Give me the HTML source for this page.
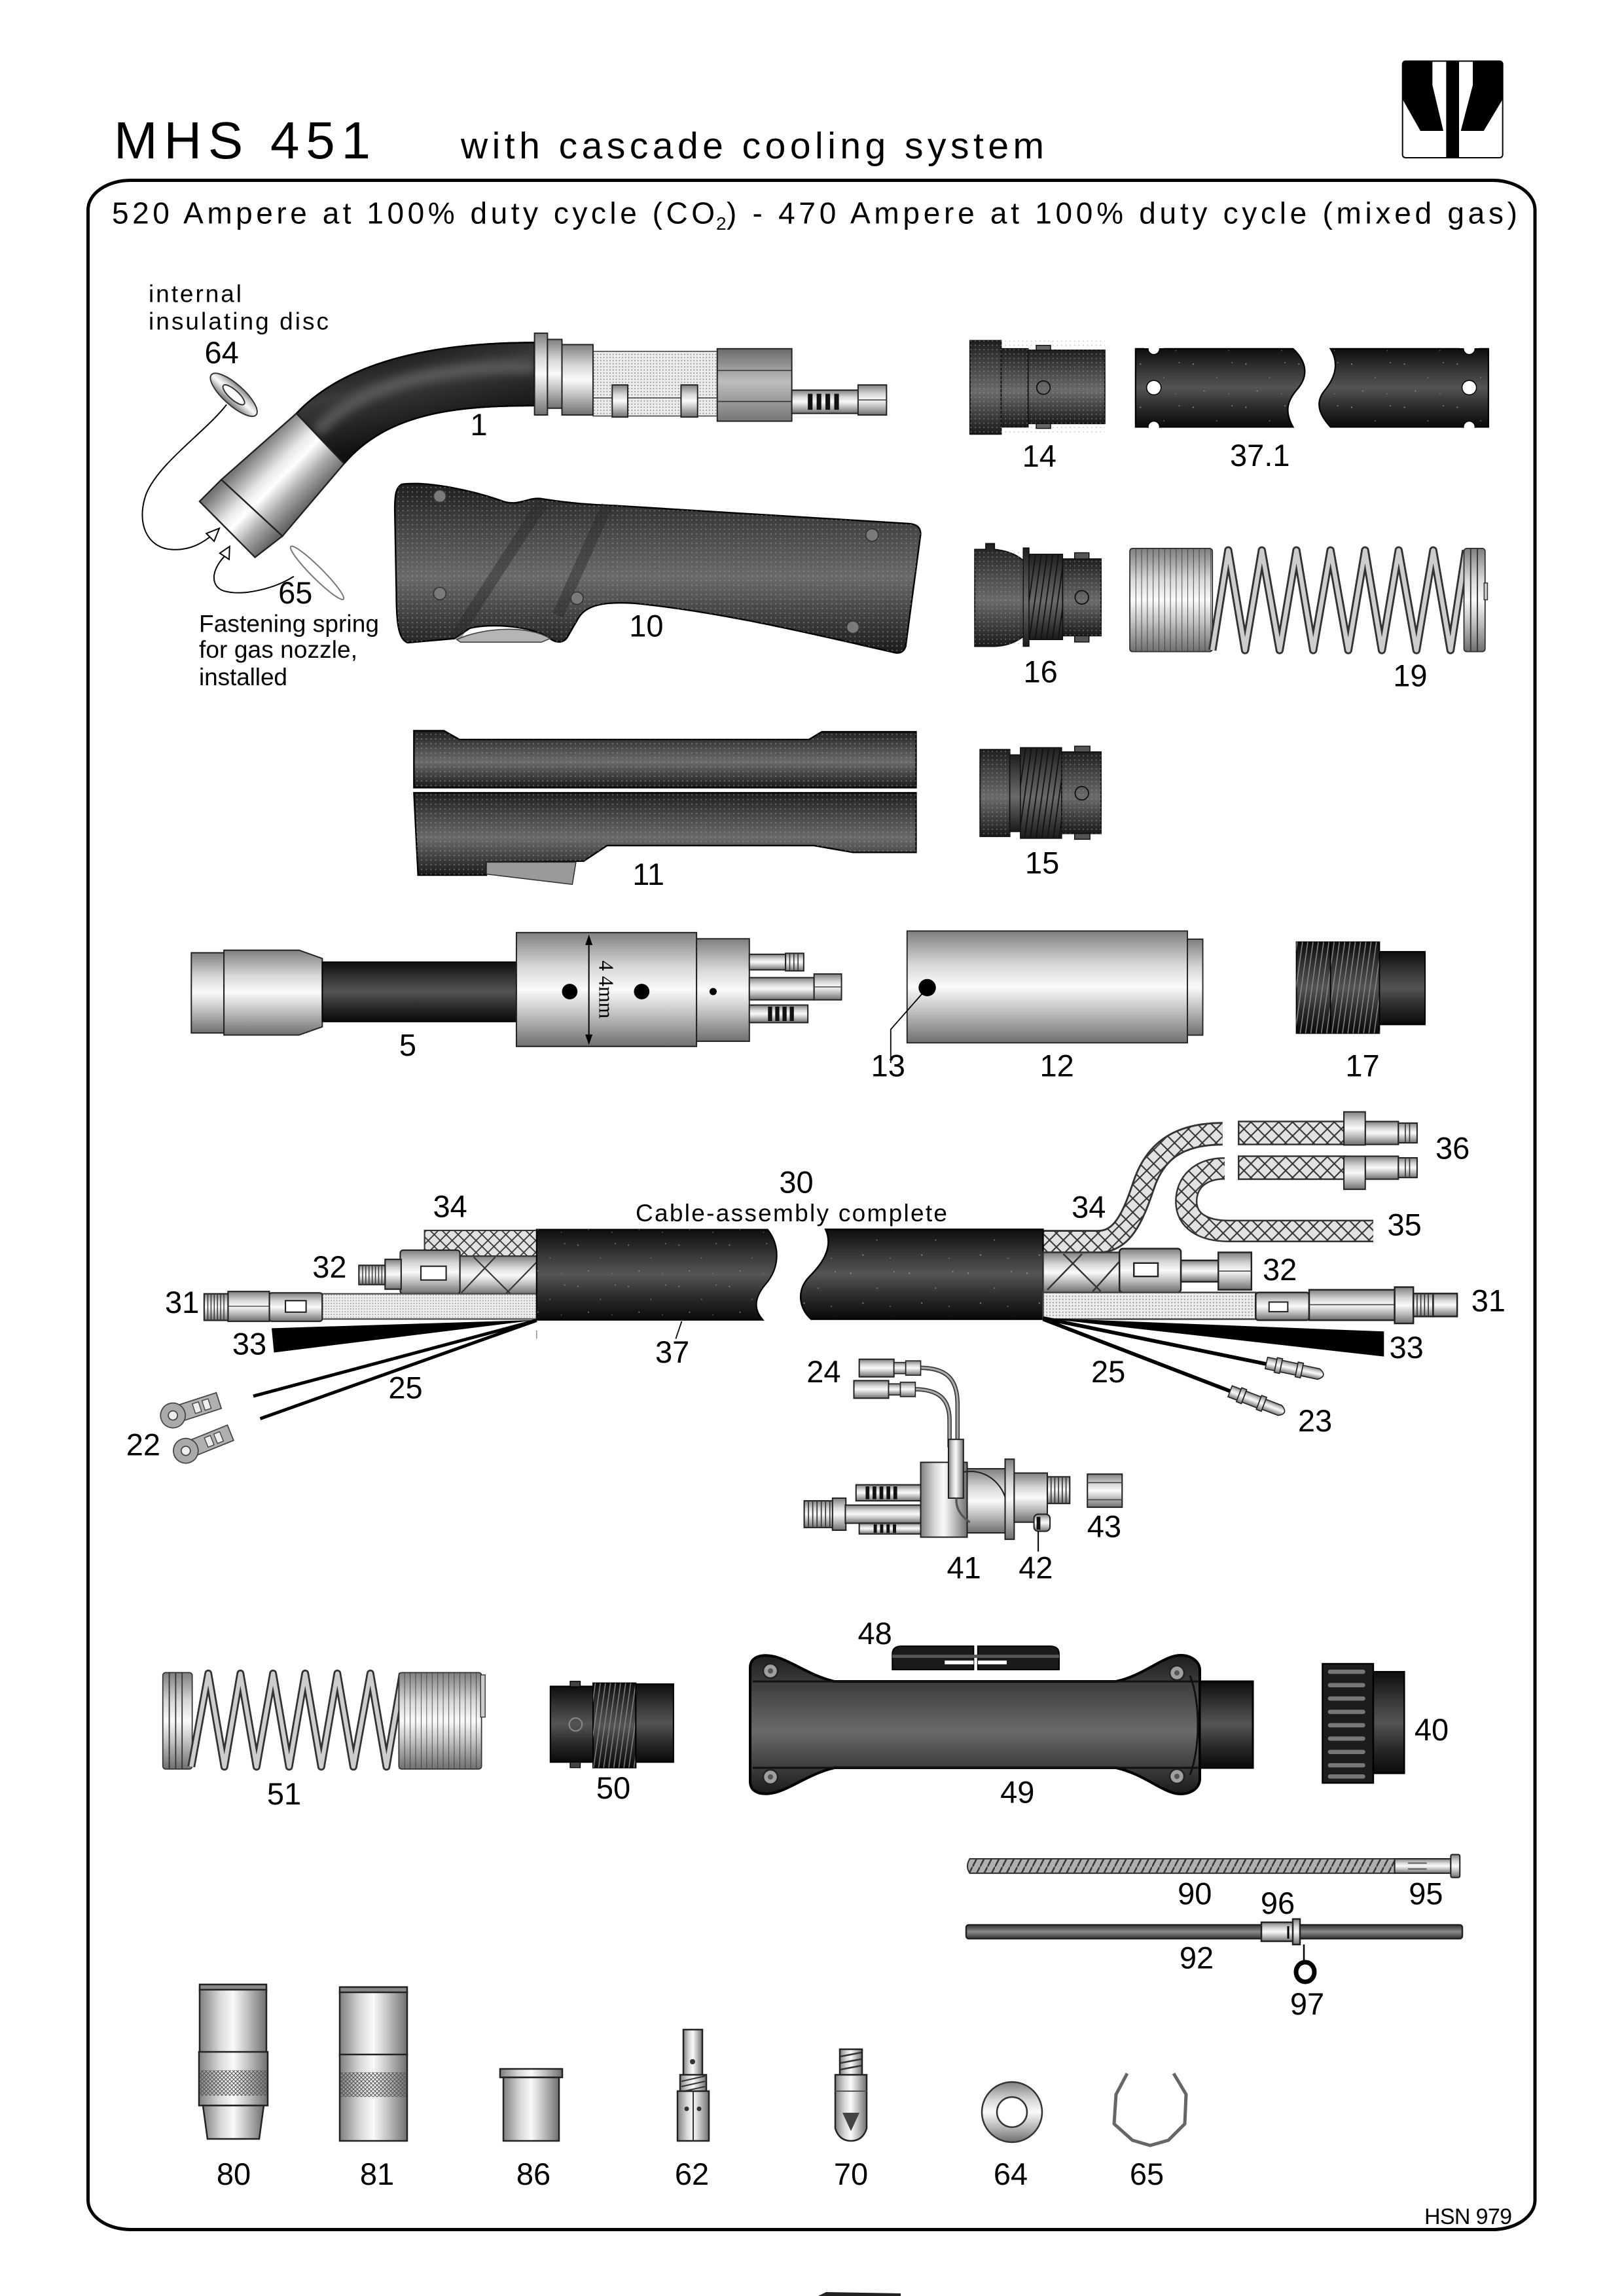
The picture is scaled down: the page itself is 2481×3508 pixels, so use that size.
<!DOCTYPE html>
<html><head><meta charset="utf-8"><style>
html,body{margin:0;padding:0;background:#fff}
svg{display:block}
text{font-family:"Liberation Sans",Arial,sans-serif;fill:#000}
</style></head><body>
<svg width="2481" height="3508" viewBox="0 0 2481 3508" xmlns="http://www.w3.org/2000/svg">
<defs>
<linearGradient id="gSilverV" x1="0" y1="0" x2="0" y2="1"><stop offset="0" stop-color="#7f7f7f"/><stop offset=".3" stop-color="#d8d8d8"/><stop offset=".5" stop-color="#fafafa"/><stop offset=".72" stop-color="#c0c0c0"/><stop offset="1" stop-color="#6f6f6f"/></linearGradient>
<linearGradient id="gSilverH" x1="0" y1="0" x2="1" y2="0"><stop offset="0" stop-color="#7f7f7f"/><stop offset=".3" stop-color="#d8d8d8"/><stop offset=".5" stop-color="#fafafa"/><stop offset=".72" stop-color="#c0c0c0"/><stop offset="1" stop-color="#6f6f6f"/></linearGradient>
<linearGradient id="gDarkV" x1="0" y1="0" x2="0" y2="1"><stop offset="0" stop-color="#0d0d0d"/><stop offset=".3" stop-color="#3a3a3a"/><stop offset=".5" stop-color="#545454"/><stop offset=".75" stop-color="#2a2a2a"/><stop offset="1" stop-color="#0a0a0a"/></linearGradient>
<linearGradient id="gGrayV" x1="0" y1="0" x2="0" y2="1"><stop offset="0" stop-color="#1e1e1e"/><stop offset=".3" stop-color="#4a4a4a"/><stop offset=".55" stop-color="#6a6a6a"/><stop offset=".8" stop-color="#3e3e3e"/><stop offset="1" stop-color="#1a1a1a"/></linearGradient>
<linearGradient id="gMidV" x1="0" y1="0" x2="0" y2="1"><stop offset="0" stop-color="#333"/><stop offset=".5" stop-color="#8a8a8a"/><stop offset="1" stop-color="#333"/></linearGradient>
<linearGradient id="gBlock" x1="0" y1="0" x2="0" y2="1"><stop offset="0" stop-color="#6a6a6a"/><stop offset=".45" stop-color="#bdbdbd"/><stop offset="1" stop-color="#777"/></linearGradient>
<linearGradient id="gNoz" gradientUnits="userSpaceOnUse" x1="272" y1="319" x2="377" y2="422"><stop offset="0" stop-color="#777"/><stop offset=".35" stop-color="#e8e8e8"/><stop offset=".5" stop-color="#fff"/><stop offset=".75" stop-color="#aaa"/><stop offset="1" stop-color="#666"/></linearGradient>
<linearGradient id="gNeck" gradientUnits="userSpaceOnUse" x1="560" y1="118" x2="600" y2="300"><stop offset="0" stop-color="#151515"/><stop offset=".4" stop-color="#3a3a3a"/><stop offset="1" stop-color="#111"/></linearGradient>
<filter id="blur8" x="-20%" y="-20%" width="140%" height="140%"><feGaussianBlur stdDeviation="8"/></filter>
<pattern id="dots" width="9" height="9" patternUnits="userSpaceOnUse"><circle cx="2" cy="2" r="1.4" fill="#a0a0a0" fill-opacity=".55"/></pattern>
<pattern id="speck" width="110" height="90" patternUnits="userSpaceOnUse"><circle cx="12" cy="14" r="1.5" fill="#aaa" fill-opacity=".7"/><circle cx="61" cy="42" r="1.3" fill="#999" fill-opacity=".7"/><circle cx="93" cy="11" r="1.4" fill="#aaa" fill-opacity=".6"/><circle cx="35" cy="70" r="1.4" fill="#aaa" fill-opacity=".7"/><circle cx="86" cy="76" r="1.2" fill="#999" fill-opacity=".6"/></pattern>
<pattern id="braid" width="26" height="26" patternUnits="userSpaceOnUse"><rect width="26" height="26" fill="#e2e2e2"/><path d="M0,0 L26,26 M26,0 L0,26" stroke="#333" stroke-width="2.5"/></pattern>
<pattern id="mesh" width="6" height="6" patternUnits="userSpaceOnUse"><rect width="6" height="6" fill="#ececec"/><circle cx="3" cy="3" r="1.2" fill="#888"/></pattern>
<pattern id="hatch" width="14" height="27" patternUnits="userSpaceOnUse"><rect width="14" height="27" fill="#b0b0b0"/><path d="M0,27 L14,0" stroke="#333" stroke-width="3"/></pattern>
<pattern id="threadL" width="11" height="20" patternUnits="userSpaceOnUse" patternTransform="skewX(-8)"><path d="M5.5,0 V20" stroke="#8a8a8a" stroke-width="2"/></pattern>
<pattern id="threadD" width="12" height="20" patternUnits="userSpaceOnUse" patternTransform="skewX(-8)"><path d="M6,0 V20" stroke="#111" stroke-width="2.5"/></pattern>
<pattern id="coil" width="12" height="20" patternUnits="userSpaceOnUse"><path d="M0,0 V20" stroke="#333" stroke-width="2.2"/></pattern>
<pattern id="knurl" width="6" height="6" patternUnits="userSpaceOnUse"><path d="M0,0 L6,6 M6,0 L0,6" stroke="#555" stroke-width="1"/></pattern>
</defs>

<!-- Header -->
<text x="174" y="242" font-size="80" textLength="392" lengthAdjust="spacing">MHS 451</text>
<text x="704" y="242" font-size="57" textLength="891" lengthAdjust="spacing">with cascade cooling system</text>
<g transform="translate(2130,80) scale(0.33333)">
<rect x="38" y="40" width="459" height="443" rx="14" fill="#fff" stroke="#000" stroke-width="6"/>
<path d="M38,54 Q38,40 52,40 L175,40 L175,150 L225,360 L120,360 L38,215 Z" fill="#000"/>
<path d="M360,40 L483,40 Q497,40 497,54 L497,215 L410,360 L305,360 L360,150 Z" fill="#000"/>
<rect x="238" y="40" width="59" height="443" fill="#000"/>
</g>

<!-- Frame -->
<rect x="134.5" y="275.5" width="2210.5" height="3131" rx="65" ry="45" fill="none" stroke="#000" stroke-width="5"/>
<text x="171" y="341.6" font-size="46" textLength="921" lengthAdjust="spacing">520 Ampere at 100% duty cycle (CO</text>
<text x="1094" y="351" font-size="28">2</text>
<text x="1110" y="341.6" font-size="46" textLength="1208" lengthAdjust="spacing">) - 470 Ampere at 100% duty cycle (mixed gas)</text>

<!-- ===== Zoom4 region: parts 1, 64, 65, 10, 11, 5 ===== -->
<g transform="translate(180,430) scale(0.79082)">
 <g transform="rotate(42 224 219)">
  <ellipse cx="224" cy="219" rx="58" ry="20" fill="url(#gSilverV)" stroke="#333" stroke-width="2.5"/>
  <ellipse cx="224" cy="219" rx="27" ry="9" fill="#fff" stroke="#333" stroke-width="2.5"/>
 </g>
 <path d="M210,238 C170,290 80,350 55,410 C35,465 55,515 105,518 C140,520 165,505 186,487" fill="none" stroke="#000" stroke-width="2.5"/>
 <path d="M196,477 L171,487 L186,502 Z" fill="#fff" stroke="#000" stroke-width="2.5"/>
 <path d="M340,570 C300,595 240,608 205,598 C180,590 178,560 207,530" fill="none" stroke="#000" stroke-width="2.5"/>
 <path d="M216,512 L197,525 L215,537 Z" fill="#fff" stroke="#000" stroke-width="2.5"/>
 <ellipse cx="385" cy="563" rx="72" ry="11" transform="rotate(45 385 563)" fill="none" stroke="#777" stroke-width="2.5"/>

 <!-- neck -->
 <path d="M345,255 C420,175 560,118 805,118 L805,240 C650,240 520,255 437,352 Z" fill="url(#gNeck)" stroke="#000" stroke-width="3"/>
 <path d="M385,290 C462,205 600,165 805,165" fill="none" stroke="#626262" stroke-width="26" stroke-opacity=".75" filter="url(#blur8)"/>
 <path d="M345,255 C420,175 560,118 805,118 L805,240 C650,240 520,255 437,352 Z" fill="none" stroke="#000" stroke-width="3"/>
 <polygon points="345,255 437,352 318,492 200,383" fill="url(#gNoz)" stroke="#222" stroke-width="3"/>
 <polygon points="200,383 318,492 265,533 158,425" fill="url(#gNoz)" stroke="#222" stroke-width="3"/>

 <!-- connector -->
 <rect x="918" y="135" width="242" height="92" fill="url(#mesh)" stroke="#444" stroke-width="2"/>
 <rect x="918" y="225" width="242" height="35" fill="url(#mesh)" stroke="#444" stroke-width="2"/>
 <rect x="805" y="100" width="25" height="158" fill="url(#gSilverV)" stroke="#222" stroke-width="2.5"/>
 <rect x="830" y="112" width="28" height="133" fill="url(#gSilverV)" stroke="#222" stroke-width="2.5"/>
 <rect x="858" y="122" width="60" height="136" fill="url(#gSilverV)" stroke="#222" stroke-width="2.5"/>
 <rect x="955" y="200" width="30" height="62" fill="url(#gSilverV)" stroke="#222" stroke-width="2.5"/>
 <rect x="1088" y="200" width="32" height="62" fill="url(#gSilverV)" stroke="#222" stroke-width="2.5"/>
 <rect x="1158" y="130" width="144" height="140" fill="url(#gBlock)" stroke="#222" stroke-width="2.5"/>
 <path d="M1158,172 H1302 M1158,232 H1302" stroke="#333" stroke-width="2"/>
 <rect x="1302" y="210" width="130" height="45" fill="url(#gSilverV)" stroke="#222" stroke-width="2.5"/>
 <g fill="#111"><rect x="1333" y="217" width="9" height="31"/><rect x="1350" y="217" width="9" height="31"/><rect x="1367" y="217" width="9" height="31"/><rect x="1384" y="217" width="9" height="31"/></g>
 <rect x="1430" y="200" width="55" height="58" fill="url(#gSilverV)" stroke="#222" stroke-width="2.5"/>
 <path d="M1430,229 H1485" stroke="#444" stroke-width="2"/>

 <!-- handle 10 -->
 <path d="M548,392 C600,385 690,405 745,425 C775,435 795,415 820,420 C870,428 920,432 960,433 L1530,468 C1548,470 1553,480 1550,495 L1522,705 C1518,718 1508,720 1496,716 C1380,690 1180,640 1000,622 C940,618 905,625 890,650 L868,688 C860,700 845,698 835,690 C800,665 720,660 680,670 L650,690 L560,698 C542,692 538,660 538,600 L535,440 C535,410 538,398 548,392 Z" fill="url(#gGrayV)" stroke="#000" stroke-width="3"/>
 <path d="M548,392 C600,385 690,405 745,425 C775,435 795,415 820,420 C870,428 920,432 960,433 L1530,468 C1548,470 1553,480 1550,495 L1522,705 C1518,718 1508,720 1496,716 C1380,690 1180,640 1000,622 C940,618 905,625 890,650 L868,688 C860,700 845,698 835,690 C800,665 720,660 680,670 L650,690 L560,698 C542,692 538,660 538,600 L535,440 C535,410 538,398 548,392 Z" fill="url(#dots)"/>
 <path d="M820,428 L650,690 M945,433 L850,645" stroke="#2a2a2a" stroke-width="22" stroke-opacity=".45"/>
 <path d="M655,692 C700,670 790,662 835,690 L818,697 L662,697 Z" fill="#b5b5b5" stroke="#444" stroke-width="2"/>
 <g fill="#7a7a7a" stroke="#333" stroke-width="2"><circle cx="622" cy="415" r="12"/><circle cx="622" cy="603" r="12"/><circle cx="887" cy="612" r="12"/><circle cx="1457" cy="490" r="12"/><circle cx="1420" cy="668" r="12"/></g>

 <!-- 11 -->
 <path d="M572,868 L630,868 L660,885 L1335,885 L1360,870 L1542,870 L1542,978 L572,978 Z" fill="url(#gGrayV)" stroke="#000" stroke-width="3"/>
 <path d="M572,868 L630,868 L660,885 L1335,885 L1360,870 L1542,870 L1542,978 L572,978 Z" fill="url(#dots)"/>
 <path d="M572,988 L1542,988 L1542,1103 L1420,1103 L1345,1090 L945,1090 L900,1120 L712,1122 L712,1147 L580,1147 Z" fill="url(#gGrayV)" stroke="#000" stroke-width="3"/>
 <path d="M572,988 L1542,988 L1542,1103 L1420,1103 L1345,1090 L945,1090 L900,1120 L712,1122 L712,1147 L580,1147 Z" fill="url(#dots)"/>
 <path d="M712,1122 L885,1122 L878,1165 L712,1145 Z" fill="#9a9a9a" stroke="#333" stroke-width="2"/>

 <!-- 5 -->
 <rect x="142" y="1297" width="63" height="155" fill="url(#gSilverV)" stroke="#222" stroke-width="2.5"/>
 <path d="M205,1292 L350,1292 L395,1308 L395,1440 L350,1456 L205,1456 Z" fill="url(#gSilverV)" stroke="#222" stroke-width="2.5"/>
 <rect x="395" y="1315" width="375" height="115" fill="url(#gDarkV)" stroke="#000" stroke-width="2.5"/>
 <rect x="770" y="1258" width="348" height="220" fill="url(#gSilverV)" stroke="#222" stroke-width="2.5"/>
 <rect x="1118" y="1270" width="102" height="198" fill="url(#gSilverV)" stroke="#222" stroke-width="2.5"/>
 <path d="M910,1275 V1462" stroke="#000" stroke-width="2.5"/>
 <path d="M910,1262 L903,1282 L917,1282 Z M910,1475 L903,1455 L917,1455 Z" fill="#000"/>
 <text transform="translate(930,1312) rotate(90)" font-size="40" style="font-family:'Liberation Serif',serif">4 4mm</text>
 <circle cx="873" cy="1372" r="15" fill="#000"/><circle cx="1012" cy="1372" r="15" fill="#000"/><circle cx="1150" cy="1372" r="7" fill="#000"/>
 <rect x="1220" y="1300" width="70" height="30" fill="url(#gSilverV)" stroke="#222" stroke-width="2.5"/>
 <rect x="1290" y="1298" width="35" height="34" fill="url(#gSilverV)" stroke="#222" stroke-width="2.5"/>
 <path d="M1298,1298 V1332 M1306,1298 V1332 M1314,1298 V1332" stroke="#333" stroke-width="2"/>
 <rect x="1220" y="1345" width="125" height="43" fill="url(#gSilverV)" stroke="#222" stroke-width="2.5"/>
 <rect x="1345" y="1338" width="53" height="50" fill="url(#gSilverV)" stroke="#222" stroke-width="2.5"/>
 <path d="M1345,1363 H1398" stroke="#444" stroke-width="2"/>
 <rect x="1220" y="1398" width="113" height="34" fill="url(#gSilverV)" stroke="#222" stroke-width="2.5"/>
 <g fill="#111"><rect x="1256" y="1401" width="8" height="28"/><rect x="1270" y="1401" width="8" height="28"/><rect x="1284" y="1401" width="8" height="28"/><rect x="1298" y="1401" width="8" height="28"/></g>
</g>

<!-- ===== Zoom6 region: 14, 37.1, 16, 19, 15, 12, 17 ===== -->
<g transform="translate(1330,480) scale(0.73342)">
 <rect x="207" y="55" width="65" height="195" fill="url(#gGrayV)" stroke="#111" stroke-width="2.5"/>
 <rect x="272" y="72" width="56" height="163" fill="url(#gGrayV)" stroke="#111" stroke-width="2.5"/>
 <rect x="328" y="75" width="160" height="153" fill="url(#gGrayV)" stroke="#111" stroke-width="2.5"/>
 <rect x="207" y="55" width="281" height="195" fill="url(#dots)"/>
 <rect x="345" y="65" width="30" height="10" fill="#666" stroke="#111" stroke-width="2"/>
 <rect x="345" y="228" width="30" height="10" fill="#666" stroke="#111" stroke-width="2"/>
 <circle cx="360" cy="153" r="14" fill="none" stroke="#111" stroke-width="2.5"/>
 <path d="M552,72 L880,72 C905,95 915,125 890,155 C870,178 860,200 880,235 L552,235 Z" fill="url(#gDarkV)" stroke="#000" stroke-width="3"/>
 <path d="M552,72 L880,72 C905,95 915,125 890,155 C870,178 860,200 880,235 L552,235 Z" fill="url(#speck)"/>
 <path d="M958,72 L1287,72 L1287,235 L958,235 C935,210 925,185 945,160 C970,130 975,100 958,72 Z" fill="url(#gDarkV)" stroke="#000" stroke-width="3"/>
 <path d="M958,72 L1287,72 L1287,235 L958,235 C935,210 925,185 945,160 C970,130 975,100 958,72 Z" fill="url(#speck)"/>
 <g fill="#fff" stroke="#000" stroke-width="2"><circle cx="590" cy="72" r="12"/><circle cx="590" cy="153" r="15"/><circle cx="590" cy="235" r="12"/><circle cx="1247" cy="72" r="12"/><circle cx="1247" cy="153" r="15"/><circle cx="1247" cy="235" r="12"/></g>
 <rect x="570" y="50" width="40" height="21" fill="#fff"/><rect x="570" y="237" width="40" height="21" fill="#fff"/>
 <rect x="1227" y="50" width="40" height="21" fill="#fff"/><rect x="1227" y="237" width="40" height="21" fill="#fff"/>
 <path d="M217,490 L240,490 L240,478 L258,478 L258,490 C290,493 310,505 320,515 L320,670 C305,682 285,692 255,692 L217,692 Z" fill="url(#gGrayV)" stroke="#111" stroke-width="2.5"/>
 <rect x="217" y="490" width="103" height="202" fill="url(#dots)"/>
 <rect x="318" y="487" width="12" height="205" fill="url(#gGrayV)" stroke="#111" stroke-width="2"/>
 <rect x="330" y="500" width="70" height="178" fill="url(#gGrayV)" stroke="#111" stroke-width="2"/>
 <rect x="330" y="500" width="70" height="178" fill="url(#threadD)"/>
 <rect x="400" y="510" width="80" height="160" fill="url(#gGrayV)" stroke="#111" stroke-width="2.5"/>
 <rect x="400" y="510" width="80" height="160" fill="url(#dots)"/>
 <rect x="425" y="497" width="30" height="13" fill="#555" stroke="#111" stroke-width="2"/>
 <rect x="425" y="670" width="30" height="13" fill="#555" stroke="#111" stroke-width="2"/>
 <circle cx="440" cy="590" r="14" fill="none" stroke="#111" stroke-width="2.5"/>
 <rect x="540" y="488" width="172" height="215" rx="6" fill="url(#gSilverV)" stroke="#333" stroke-width="2.5"/>
 <rect x="540" y="488" width="172" height="215" fill="url(#coil)"/>
 <polyline points="712,700 745,492 780,700 815,492 852,700 887,492 922,700 958,492 995,700 1030,492 1065,700 1100,492 1137,700 1172,492 1208,700 1240,492" fill="none" stroke="#333" stroke-width="17" stroke-linejoin="round"/>
 <polyline points="712,700 745,492 780,700 815,492 852,700 887,492 922,700 958,492 995,700 1030,492 1065,700 1100,492 1137,700 1172,492 1208,700 1240,492" fill="none" stroke="#cdcdcd" stroke-width="9" stroke-linejoin="round"/>
 <rect x="1236" y="488" width="44" height="215" rx="6" fill="url(#gSilverV)" stroke="#333" stroke-width="2.5"/>
 <path d="M1250,488 V703 M1264,488 V703" stroke="#333" stroke-width="2.5"/>
 <rect x="1278" y="560" width="7" height="35" fill="#ccc" stroke="#333" stroke-width="2"/>
 <rect x="228" y="907" width="62" height="181" fill="url(#gGrayV)" stroke="#111" stroke-width="2.5"/>
 <rect x="228" y="907" width="62" height="181" fill="url(#dots)"/>
 <rect x="290" y="918" width="22" height="160" fill="url(#gGrayV)" stroke="#111" stroke-width="2"/>
 <rect x="312" y="903" width="86" height="189" fill="url(#gGrayV)" stroke="#111" stroke-width="2"/>
 <rect x="312" y="903" width="86" height="189" fill="url(#threadD)"/>
 <rect x="398" y="912" width="82" height="170" fill="url(#gGrayV)" stroke="#111" stroke-width="2.5"/>
 <rect x="398" y="912" width="82" height="170" fill="url(#dots)"/>
 <rect x="425" y="900" width="32" height="12" fill="#555" stroke="#111" stroke-width="2"/>
 <rect x="425" y="1082" width="32" height="12" fill="#555" stroke="#111" stroke-width="2"/>
 <circle cx="440" cy="998" r="14" fill="none" stroke="#111" stroke-width="2.5"/>
 <rect x="76" y="1285" width="584" height="233" fill="url(#gSilverV)" stroke="#222" stroke-width="2.5"/>
 <rect x="660" y="1302" width="32" height="200" fill="url(#gSilverV)" stroke="#222" stroke-width="2.5"/>
 <circle cx="118" cy="1403" r="18" fill="#000"/>
 <path d="M108,1415 L42,1490 L42,1560" fill="none" stroke="#000" stroke-width="2.5"/>
 <rect x="887" y="1308" width="173" height="190" fill="url(#gDarkV)" stroke="#000" stroke-width="2.5"/>
 <rect x="887" y="1308" width="173" height="190" fill="url(#threadL)"/>
 <path d="M958,1308 V1498" stroke="#000" stroke-width="2.5"/>
 <rect x="1060" y="1328" width="95" height="152" fill="url(#gDarkV)" stroke="#000" stroke-width="2.5"/>
</g>

<!-- ===== Zoom7 region ===== -->
<g transform="translate(180,1640) scale(0.70153)">
 <rect x="668" y="342" width="250" height="56" fill="url(#braid)" stroke="#333" stroke-width="3"/>
 <rect x="740" y="398" width="178" height="84" fill="url(#gSilverV)" stroke="#333" stroke-width="3"/>
 <path d="M748,478 L822,400 M775,400 L855,480 M845,480 L915,408" stroke="#333" stroke-width="3" fill="none"/>
 <rect x="615" y="385" width="130" height="95" rx="6" fill="url(#gSilverV)" stroke="#222" stroke-width="3"/>
 <rect x="660" y="420" width="55" height="30" fill="#fff" stroke="#222" stroke-width="3"/>
 <rect x="582" y="405" width="35" height="65" fill="url(#gSilverV)" stroke="#222" stroke-width="3"/>
 <rect x="525" y="418" width="57" height="42" fill="url(#gSilverV)" stroke="#222" stroke-width="3"/>
 <path d="M533,418 V460 M540,418 V460 M547,418 V460 M554,418 V460 M561,418 V460 M568,418 V460 M575,418 V460" stroke="#333" stroke-width="2"/>
 <rect x="445" y="480" width="473" height="55" fill="url(#mesh)" stroke="#444" stroke-width="3"/>
 <rect x="330" y="478" width="115" height="62" rx="5" fill="url(#gSilverV)" stroke="#222" stroke-width="3"/>
 <rect x="365" y="495" width="45" height="25" fill="#fff" stroke="#222" stroke-width="3"/>
 <rect x="240" y="475" width="90" height="65" fill="url(#gSilverV)" stroke="#222" stroke-width="3"/>
 <path d="M240,507 H330" stroke="#444" stroke-width="2"/>
 <rect x="188" y="480" width="52" height="58" fill="url(#gSilverV)" stroke="#222" stroke-width="3"/>
 <path d="M196,480 V538 M203,480 V538 M210,480 V538 M217,480 V538 M224,480 V538 M231,480 V538" stroke="#333" stroke-width="2"/>
 <polygon points="335,555 912,537 340,608" fill="#000"/>
 <path d="M912,538 L295,703 M912,538 L310,752" stroke="#000" stroke-width="7"/>
 <path d="M912,340 L1415,340 C1440,370 1445,420 1410,460 C1385,490 1385,515 1405,537 L912,537 Z" fill="url(#gDarkV)" stroke="#000" stroke-width="3"/>
 <path d="M912,340 L1415,340 C1440,370 1445,420 1410,460 C1385,490 1385,515 1405,537 L912,537 Z" fill="url(#speck)"/>
 <path d="M1215,578 L1228,540" stroke="#000" stroke-width="2.5"/>
 <path d="M912,560 V578" stroke="#888" stroke-width="2"/>
 <g transform="rotate(-18 120 745)">
  <rect x="140" y="727" width="85" height="36" fill="#b0b0b0" stroke="#444" stroke-width="2.5"/>
  <rect x="168" y="734" width="14" height="22" fill="#eee" stroke="#444" stroke-width="2"/><rect x="190" y="734" width="14" height="22" fill="#eee" stroke="#444" stroke-width="2"/>
  <circle cx="120" cy="745" r="27" fill="#aaa" stroke="#444" stroke-width="2.5"/><circle cx="120" cy="745" r="10" fill="#eee" stroke="#444" stroke-width="2.5"/>
 </g>
 <g transform="rotate(-22 148 822)">
  <rect x="168" y="804" width="85" height="36" fill="#b0b0b0" stroke="#444" stroke-width="2.5"/>
  <rect x="196" y="811" width="14" height="22" fill="#eee" stroke="#444" stroke-width="2"/><rect x="218" y="811" width="14" height="22" fill="#eee" stroke="#444" stroke-width="2"/>
  <circle cx="148" cy="822" r="27" fill="#aaa" stroke="#444" stroke-width="2.5"/><circle cx="148" cy="822" r="10" fill="#eee" stroke="#444" stroke-width="2.5"/>
 </g>
 <rect x="98" y="1305" width="64" height="210" rx="6" fill="url(#gSilverV)" stroke="#333" stroke-width="2.5"/>
 <path d="M112,1305 V1515 M126,1305 V1515 M140,1305 V1515" stroke="#333" stroke-width="2.5"/>
 <polyline points="160,1510 197,1307 232,1510 267,1307 302,1510 338,1307 373,1510 408,1307 443,1510 478,1307 513,1510 550,1307 585,1510 620,1307" fill="none" stroke="#333" stroke-width="17" stroke-linejoin="round"/>
 <polyline points="160,1510 197,1307 232,1510 267,1307 302,1510 338,1307 373,1510 408,1307 443,1510 478,1307 513,1510 550,1307 585,1510 620,1307" fill="none" stroke="#cdcdcd" stroke-width="9" stroke-linejoin="round"/>
 <rect x="612" y="1305" width="180" height="210" rx="6" fill="url(#gSilverV)" stroke="#333" stroke-width="2.5"/>
 <rect x="612" y="1305" width="180" height="210" fill="url(#coil)"/>
 <rect x="790" y="1310" width="10" height="92" fill="#ccc" stroke="#333" stroke-width="2"/>
 <rect x="942" y="1335" width="93" height="165" fill="url(#gDarkV)" stroke="#000" stroke-width="3"/>
 <rect x="985" y="1324" width="22" height="12" fill="#444" stroke="#000" stroke-width="2"/>
 <rect x="985" y="1500" width="22" height="12" fill="#444" stroke="#000" stroke-width="2"/>
 <circle cx="997" cy="1418" r="14" fill="none" stroke="#888" stroke-width="3"/>
 <rect x="1035" y="1328" width="93" height="184" fill="url(#gDarkV)" stroke="#000" stroke-width="3"/>
 <rect x="1035" y="1328" width="93" height="184" fill="url(#threadL)"/>
 <rect x="1128" y="1330" width="82" height="170" fill="url(#gDarkV)" stroke="#000" stroke-width="3"/>
</g>

<!-- ===== Zoom8 region ===== -->
<g transform="translate(1200,1640) scale(0.81633)">
 <path d="M482,315 L585,315 C630,315 650,270 670,210 C690,150 730,113 818,113" fill="none" stroke="#333" stroke-width="44"/>
 <path d="M482,315 L585,315 C630,315 650,270 670,210 C690,150 730,113 818,113" fill="none" stroke="url(#braid)" stroke-width="37"/>
 <path d="M822,178 C775,178 750,205 750,240 C750,275 780,295 830,295 L1100,295" fill="none" stroke="#333" stroke-width="42"/>
 <path d="M822,178 C775,178 750,205 750,240 C750,275 780,295 830,295 L1100,295" fill="none" stroke="url(#braid)" stroke-width="36"/>
 <rect x="848" y="90" width="200" height="43" fill="url(#braid)" stroke="#333" stroke-width="3"/>
 <rect x="848" y="155" width="200" height="43" fill="url(#braid)" stroke="#333" stroke-width="3"/>
 <rect x="1085" y="90" width="62" height="43" fill="url(#gSilverV)" stroke="#222" stroke-width="2.5"/>
 <rect x="1147" y="93" width="35" height="37" fill="url(#gSilverV)" stroke="#222" stroke-width="2.5"/>
 <rect x="1045" y="72" width="40" height="62" fill="url(#gSilverV)" stroke="#222" stroke-width="2.5"/>
 <rect x="1085" y="155" width="62" height="43" fill="url(#gSilverV)" stroke="#222" stroke-width="2.5"/>
 <rect x="1147" y="158" width="35" height="37" fill="url(#gSilverV)" stroke="#222" stroke-width="2.5"/>
 <rect x="1045" y="155" width="40" height="62" fill="url(#gSilverV)" stroke="#222" stroke-width="2.5"/>
 <path d="M1160,93 V130 M1168,93 V130 M1160,158 V195 M1168,158 V195" stroke="#333" stroke-width="2"/>
 <path d="M75,292 L482,292 L482,460 L48,460 C25,440 20,405 45,380 C70,355 90,325 75,292 Z" fill="url(#gDarkV)" stroke="#000" stroke-width="3"/>
 <path d="M75,292 L482,292 L482,460 L48,460 C25,440 20,405 45,380 C70,355 90,325 75,292 Z" fill="url(#speck)"/>
 <rect x="482" y="335" width="143" height="75" fill="url(#gSilverV)" stroke="#333" stroke-width="3"/>
 <path d="M490,405 L555,338 M520,338 L590,408 M575,408 L625,352" stroke="#333" stroke-width="3" fill="none"/>
 <rect x="625" y="328" width="115" height="82" rx="6" fill="url(#gSilverV)" stroke="#222" stroke-width="3"/>
 <rect x="652" y="355" width="45" height="25" fill="#fff" stroke="#222" stroke-width="3"/>
 <rect x="740" y="350" width="70" height="40" fill="url(#gSilverV)" stroke="#222" stroke-width="3"/>
 <rect x="810" y="335" width="62" height="70" fill="url(#gSilverV)" stroke="#222" stroke-width="3"/>
 <path d="M810,370 H872" stroke="#444" stroke-width="2"/>
 <rect x="482" y="410" width="398" height="50" fill="url(#mesh)" stroke="#444" stroke-width="3"/>
 <rect x="880" y="410" width="100" height="52" rx="5" fill="url(#gSilverV)" stroke="#222" stroke-width="3"/>
 <rect x="905" y="428" width="35" height="18" fill="#fff" stroke="#222" stroke-width="2.5"/>
 <rect x="980" y="405" width="160" height="57" fill="url(#gSilverV)" stroke="#222" stroke-width="3"/>
 <path d="M980,433 H1140" stroke="#444" stroke-width="2"/>
 <rect x="1140" y="400" width="35" height="68" fill="url(#gSilverV)" stroke="#222" stroke-width="3"/>
 <rect x="1175" y="412" width="37" height="43" fill="url(#gSilverV)" stroke="#222" stroke-width="3"/>
 <path d="M1182,412 V455 M1189,412 V455 M1196,412 V455 M1203,412 V455" stroke="#333" stroke-width="2"/>
 <rect x="1212" y="412" width="45" height="43" fill="url(#gSilverV)" stroke="#222" stroke-width="3"/>
 <polygon points="482,458 1120,483 1120,530" fill="#000"/>
 <path d="M482,458 L905,545 M482,460 L838,597" stroke="#000" stroke-width="7"/>
 <g transform="translate(900,542) rotate(12)">
  <rect x="0" y="-11" width="18" height="22" fill="url(#gSilverV)" stroke="#222" stroke-width="2"/><rect x="18" y="-14" width="10" height="28" fill="url(#gSilverV)" stroke="#222" stroke-width="2"/><rect x="28" y="-11" width="30" height="22" fill="url(#gSilverV)" stroke="#222" stroke-width="2"/><rect x="58" y="-14" width="10" height="28" fill="url(#gSilverV)" stroke="#222" stroke-width="2"/>
  <path d="M68,-10 L100,-10 Q118,0 100,10 L68,10 Z" fill="url(#gSilverV)" stroke="#222" stroke-width="2"/>
 </g>
 <g transform="translate(832,595) rotate(21)">
  <rect x="0" y="-11" width="18" height="22" fill="url(#gSilverV)" stroke="#222" stroke-width="2"/><rect x="18" y="-14" width="10" height="28" fill="url(#gSilverV)" stroke="#222" stroke-width="2"/><rect x="28" y="-11" width="30" height="22" fill="url(#gSilverV)" stroke="#222" stroke-width="2"/><rect x="58" y="-14" width="10" height="28" fill="url(#gSilverV)" stroke="#222" stroke-width="2"/>
  <path d="M68,-10 L100,-10 Q118,0 100,10 L68,10 Z" fill="url(#gSilverV)" stroke="#222" stroke-width="2"/>
 </g>
 <path d="M250,551 C300,551 322,570 322,620 L322,700" fill="none" stroke="#333" stroke-width="8"/>
 <path d="M250,551 C300,551 322,570 322,620 L322,700" fill="none" stroke="#aaa" stroke-width="4"/>
 <path d="M240,591 C288,591 307,610 307,650 L307,700" fill="none" stroke="#333" stroke-width="8"/>
 <path d="M240,591 C288,591 307,610 307,650 L307,700" fill="none" stroke="#aaa" stroke-width="4"/>
 <rect x="138" y="535" width="65" height="33" fill="url(#gSilverV)" stroke="#222" stroke-width="2.5"/>
 <rect x="203" y="541" width="22" height="21" fill="url(#gSilverV)" stroke="#222" stroke-width="2"/>
 <rect x="225" y="538" width="28" height="27" fill="url(#gSilverV)" stroke="#222" stroke-width="2"/>
 <rect x="128" y="575" width="65" height="33" fill="url(#gSilverV)" stroke="#222" stroke-width="2.5"/>
 <rect x="193" y="581" width="22" height="21" fill="url(#gSilverV)" stroke="#222" stroke-width="2"/>
 <rect x="215" y="578" width="28" height="27" fill="url(#gSilverV)" stroke="#222" stroke-width="2"/>
 <rect x="35" y="800" width="55" height="50" fill="url(#gSilverV)" stroke="#222" stroke-width="2.5"/>
 <path d="M43,800 V850 M51,800 V850 M59,800 V850 M67,800 V850 M75,800 V850 M83,800 V850" stroke="#333" stroke-width="2"/>
 <rect x="88" y="795" width="25" height="60" fill="url(#gSilverV)" stroke="#222" stroke-width="2.5"/>
 <rect x="112" y="808" width="143" height="34" fill="url(#gSilverV)" stroke="#222" stroke-width="2.5"/>
 <rect x="132" y="770" width="123" height="30" fill="url(#gSilverV)" stroke="#222" stroke-width="2.5"/>
 <g fill="#111"><rect x="150" y="773" width="7" height="24"/><rect x="163" y="773" width="7" height="24"/><rect x="176" y="773" width="7" height="24"/><rect x="189" y="773" width="7" height="24"/><rect x="202" y="773" width="7" height="24"/></g>
 <rect x="138" y="842" width="117" height="20" fill="url(#gSilverV)" stroke="#222" stroke-width="2.5"/>
 <g fill="#111"><rect x="165" y="844" width="6" height="16"/><rect x="177" y="844" width="6" height="16"/><rect x="189" y="844" width="6" height="16"/><rect x="201" y="844" width="6" height="16"/></g>
 <rect x="253" y="728" width="87" height="140" fill="url(#gSilverH)" stroke="#222" stroke-width="2.5"/>
 <rect x="340" y="740" width="73" height="120" fill="url(#gSilverV)" stroke="#222" stroke-width="2.5"/>
 <path d="M325,748 C370,735 405,765 413,800" fill="none" stroke="#222" stroke-width="2.5"/>
 <rect x="305" y="685" width="28" height="110" fill="url(#gSilverH)" stroke="#222" stroke-width="2.5"/>
 <path d="M320,795 C318,815 330,830 345,840" fill="none" stroke="#555" stroke-width="4"/>
 <rect x="411" y="722" width="17" height="150" fill="url(#gSilverV)" stroke="#222" stroke-width="2.5"/>
 <rect x="428" y="748" width="62" height="92" fill="url(#gSilverV)" stroke="#222" stroke-width="2.5"/>
 <rect x="490" y="755" width="42" height="50" fill="url(#gSilverV)" stroke="#222" stroke-width="2.5"/>
 <path d="M497,755 V805 M504,755 V805 M511,755 V805 M518,755 V805 M525,755 V805" stroke="#333" stroke-width="2"/>
 <rect x="465" y="825" width="30" height="32" rx="8" fill="url(#gSilverV)" stroke="#222" stroke-width="2.5"/>
 <rect x="470" y="830" width="7" height="24" fill="#111"/>
 <path d="M473,857 V895" stroke="#000" stroke-width="2.5"/>
 <rect x="565" y="750" width="65" height="62" fill="url(#gSilverV)" stroke="#222" stroke-width="2.5"/>
 <path d="M565,766 H630 M565,798 H630" stroke="#444" stroke-width="2"/>
 <path d="M200,1087 Q200,1072 217,1072 L352,1072 L352,1116 L200,1116 Z" fill="#1a1a1a" stroke="#000" stroke-width="2.5"/>
 <path d="M360,1072 L495,1072 Q512,1072 512,1087 L512,1116 L360,1116 Z" fill="#1a1a1a" stroke="#000" stroke-width="2.5"/>
 <rect x="298" y="1099" width="54" height="7" fill="#fff"/><rect x="360" y="1099" width="54" height="7" fill="#fff"/>
 <rect x="200" y="1088" width="312" height="6" fill="#555"/>
 <rect x="1005" y="1105" width="95" height="223" fill="#1c1c1c" stroke="#000" stroke-width="3"/>
 <g fill="#777"><rect x="1015" y="1116" width="70" height="8" rx="4"/><rect x="1015" y="1141" width="70" height="8" rx="4"/><rect x="1015" y="1166" width="70" height="8" rx="4"/><rect x="1015" y="1191" width="70" height="8" rx="4"/><rect x="1015" y="1216" width="70" height="8" rx="4"/><rect x="1015" y="1241" width="70" height="8" rx="4"/><rect x="1015" y="1266" width="70" height="8" rx="4"/><rect x="1015" y="1291" width="70" height="8" rx="4"/><rect x="1015" y="1312" width="70" height="8" rx="4"/></g>
 <rect x="1100" y="1120" width="58" height="190" fill="url(#gDarkV)" stroke="#000" stroke-width="3"/>
 <path d="M345,1470 L1140,1470 L1140,1497 L345,1497 Q336,1484 345,1470 Z" fill="url(#hatch)" stroke="#333" stroke-width="2.5"/>
 <rect x="1140" y="1470" width="105" height="27" fill="url(#gSilverV)" stroke="#222" stroke-width="2.5"/>
 <path d="M1165,1478 H1200 M1165,1489 H1200" stroke="#444" stroke-width="2"/>
 <rect x="1245" y="1462" width="17" height="43" rx="3" fill="url(#gSilverV)" stroke="#222" stroke-width="2.5"/>
</g>

<!-- 49 -->
<path d="M1146,2548 C1146,2533 1160,2527 1178,2530 C1205,2534 1235,2560 1275,2569 L1705,2569 C1745,2560 1770,2536 1795,2530 C1815,2526 1833,2536 1833,2552 L1833,2718 C1833,2734 1815,2744 1795,2740 C1770,2734 1745,2710 1705,2701 L1275,2701 C1235,2710 1205,2736 1178,2740 C1160,2743 1146,2737 1146,2722 Z" fill="url(#gGrayV)" stroke="#000" stroke-width="4"/>
<path d="M1150,2569 H1833 M1150,2701 H1833" stroke="#111" stroke-width="3"/>
<path d="M1818,2560 C1834,2600 1834,2670 1818,2712" fill="none" stroke="#111" stroke-width="3"/>
<rect x="1833" y="2569" width="81" height="132" fill="url(#gDarkV)" stroke="#000" stroke-width="3"/>
<g fill="#a0a0a0" stroke="#222" stroke-width="2.5"><circle cx="1177" cy="2553" r="11"/><circle cx="1177" cy="2715" r="11"/><circle cx="1798" cy="2556" r="11"/><circle cx="1798" cy="2714" r="11"/></g>
<g fill="#555"><circle cx="1177" cy="2553" r="4"/><circle cx="1177" cy="2715" r="4"/><circle cx="1798" cy="2556" r="4"/><circle cx="1798" cy="2714" r="4"/></g>

<!-- 92 / 96 / 97 -->
<rect x="1476" y="2941" width="758" height="21" rx="4" fill="url(#gMidV)" stroke="#222" stroke-width="2.5"/>
<rect x="1927" y="2937" width="52" height="29" fill="url(#gSilverV)" stroke="#222" stroke-width="2.5"/>
<rect x="1975" y="2932" width="11" height="39" fill="url(#gSilverV)" stroke="#222" stroke-width="2.5"/>
<path d="M1968,2943 V2962" stroke="#000" stroke-width="3"/>
<path d="M1992,2971 V2995" stroke="#000" stroke-width="2.5"/>
<ellipse cx="1994" cy="3013" rx="14" ry="15" fill="none" stroke="#000" stroke-width="7"/>

<!-- bottom parts -->
<rect x="305" y="3032" width="102" height="9" fill="#888" stroke="#222" stroke-width="2.5"/>
<rect x="305" y="3040" width="102" height="96" fill="url(#gSilverH)" stroke="#222" stroke-width="2.5"/>
<rect x="304" y="3135" width="105" height="82" fill="url(#gSilverH)" stroke="#222" stroke-width="2.5"/>
<rect x="305" y="3163" width="103" height="39" fill="url(#knurl)"/>
<path d="M310,3217 L403,3217 L396,3268 L317,3268 Z" fill="url(#gSilverH)" stroke="#222" stroke-width="2.5"/>
<rect x="519" y="3036" width="103" height="9" fill="#888" stroke="#222" stroke-width="2.5"/>
<rect x="519" y="3044" width="103" height="96" fill="url(#gSilverH)" stroke="#222" stroke-width="2.5"/>
<rect x="519" y="3139" width="103" height="132" fill="url(#gSilverH)" stroke="#222" stroke-width="2.5"/>
<rect x="520" y="3166" width="101" height="38" fill="url(#knurl)"/>
<rect x="764" y="3161" width="95" height="13" fill="url(#gSilverH)" stroke="#222" stroke-width="2.5"/>
<rect x="769" y="3174" width="85" height="97" fill="url(#gSilverH)" stroke="#222" stroke-width="2.5"/>
<rect x="1044" y="3101" width="29" height="70" fill="url(#gSilverH)" stroke="#222" stroke-width="2.5"/>
<circle cx="1058" cy="3150" r="4" fill="#333"/>
<rect x="1039" y="3170" width="40" height="26" fill="url(#gSilverH)" stroke="#222" stroke-width="2.5"/>
<path d="M1041,3180 L1077,3172 M1041,3188 L1077,3180 M1041,3196 L1077,3188" stroke="#333" stroke-width="2"/>
<rect x="1035" y="3195" width="48" height="76" fill="url(#gSilverH)" stroke="#222" stroke-width="2.5"/>
<path d="M1059,3195 V3271" stroke="#333" stroke-width="2"/>
<circle cx="1049" cy="3222" r="3.5" fill="#333"/><circle cx="1068" cy="3222" r="3.5" fill="#333"/>
<rect x="1283" y="3131" width="34" height="40" fill="url(#gSilverH)" stroke="#222" stroke-width="2.5"/>
<path d="M1284,3142 L1316,3136 M1284,3152 L1316,3146 M1284,3162 L1316,3156" stroke="#333" stroke-width="2.5"/>
<path d="M1276,3170 L1324,3170 L1324,3252 Q1318,3271 1300,3271 Q1282,3271 1276,3252 Z" fill="url(#gSilverH)" stroke="#222" stroke-width="2.5"/>
<path d="M1276,3195 H1324" stroke="#555" stroke-width="2"/>
<path d="M1287,3228 L1313,3228 L1300,3256 Z" fill="#444"/>
<circle cx="1546" cy="3227" r="46" fill="url(#gSilverV)" stroke="#333" stroke-width="2.5"/>
<circle cx="1546" cy="3227" r="23" fill="#fff" stroke="#333" stroke-width="2.5"/>
<polyline points="1722,3168 1705,3200 1702,3245 1730,3270 1757,3278 1785,3270 1810,3245 1812,3200 1793,3168" fill="none" stroke="#666" stroke-width="5" stroke-linejoin="round"/>
<polygon points="1250,3508 1262,3502 1376,3504 1376,3508" fill="#222"/>

<!-- small texts -->
<g font-size="37">
<text x="227" y="461.6" textLength="142" lengthAdjust="spacing">internal</text>
<text x="227" y="503.5" textLength="275" lengthAdjust="spacing">insulating disc</text>
<text x="304" y="965.4" textLength="275" lengthAdjust="spacing">Fastening spring</text>
<text x="304" y="1004.9" textLength="242" lengthAdjust="spacing">for gas nozzle,</text>
<text x="304" y="1046.8" textLength="135" lengthAdjust="spacing">installed</text>
<text x="971" y="1866" textLength="476" lengthAdjust="spacing">Cable-assembly complete</text>
</g>
<text x="2176" y="3398" font-size="34" textLength="134" lengthAdjust="spacing">HSN 979</text>

<!-- number labels -->
<g font-size="47" text-anchor="middle">
<text x="338.6" y="555">64</text>
<text x="731.6" y="665">1</text>
<text x="451.3" y="922">65</text>
<text x="987.4" y="972.5">10</text>
<text x="990.6" y="1352">11</text>
<text x="622.9" y="1613">5</text>
<text x="1587.8" y="713">14</text>
<text x="1924.8" y="712">37.1</text>
<text x="1589.6" y="1042.5">16</text>
<text x="2154.4" y="1048.4">19</text>
<text x="1592.2" y="1334.4">15</text>
<text x="1356.8" y="1644.6">13</text>
<text x="1614.7" y="1644.6">12</text>
<text x="2081.5" y="1644.6">17</text>
<text x="1216.5" y="1822.4">30</text>
<text x="687.6" y="1859.6">34</text>
<text x="1663.3" y="1860.4">34</text>
<text x="2219.2" y="1770.6">36</text>
<text x="2145.7" y="1887.3">35</text>
<text x="503.4" y="1952.2">32</text>
<text x="1955.1" y="1955.9">32</text>
<text x="278.2" y="2006.2">31</text>
<text x="2273.9" y="2003.3">31</text>
<text x="381" y="2069.3">33</text>
<text x="2148.6" y="2075.1">33</text>
<text x="1027.1" y="2082">37</text>
<text x="619.5" y="2136.7">25</text>
<text x="1693.1" y="2111.8">25</text>
<text x="1258.4" y="2111.8">24</text>
<text x="2009" y="2186.9">23</text>
<text x="218.9" y="2223.7">22</text>
<text x="1686.9" y="2348.6">43</text>
<text x="1472.7" y="2411.4">41</text>
<text x="1582.4" y="2411.4">42</text>
<text x="1336.7" y="2511.8">48</text>
<text x="2187" y="2659">40</text>
<text x="434" y="2757">51</text>
<text x="937" y="2748">50</text>
<text x="1554.3" y="2754.3">49</text>
<text x="1825.3" y="2909.4">90</text>
<text x="2178.4" y="2909.4">95</text>
<text x="1952" y="2924">96</text>
<text x="1828" y="3007.7">92</text>
<text x="1997" y="3078">97</text>
<text x="357" y="3338">80</text>
<text x="576" y="3338">81</text>
<text x="815" y="3338">86</text>
<text x="1057" y="3338">62</text>
<text x="1300" y="3338">70</text>
<text x="1544" y="3338">64</text>
<text x="1752" y="3338">65</text>
</g>
</svg>
</body></html>
